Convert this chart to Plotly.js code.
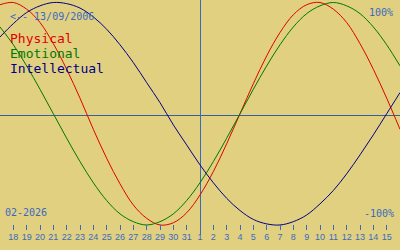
<!DOCTYPE html>
<html>
<head>
<meta charset="utf-8">
<script src="https://cdn.plot.ly/plotly-3.0.1.min.js"></script>
<style>html,body{margin:0;padding:0;background:#e0d080;}#chart{width:400px;height:250px;}</style>
</head>
<body>
<div id="chart"></div>
<script>
// day offsets from 1 Feb 2026 (Jan 17 .. Feb 16)
const dayOffsets = [-15,-14,-13,-12,-11,-10,-9,-8,-7,-6,-5,-4,-3,-2,-1,0,1,2,3,4,5,6,7,8,9,10,11,12,13,14,15];
const physical = [0.98,1.00,0.94,0.82,0.63,0.40,0.14,-0.14,-0.40,-0.63,-0.82,-0.94,-1.00,-0.98,-0.89,-0.73,-0.52,-0.27,0.00,0.27,0.52,0.73,0.89,0.98,1.00,0.94,0.82,0.63,0.40,0.14,-0.14];
const emotional = [0.78,0.62,0.43,0.22,0.00,-0.22,-0.43,-0.62,-0.78,-0.90,-0.97,-1.00,-0.97,-0.90,-0.78,-0.62,-0.43,-0.22,0.00,0.22,0.43,0.62,0.78,0.90,0.97,1.00,0.97,0.90,0.78,0.62,0.43];
const intellectual = [0.69,0.81,0.91,0.97,1.00,0.99,0.95,0.87,0.76,0.62,0.46,0.28,0.10,-0.10,-0.28,-0.46,-0.62,-0.76,-0.87,-0.95,-0.99,-1.00,-0.97,-0.91,-0.81,-0.69,-0.54,-0.37,-0.19,0.00,0.19];
const tickPositions = [-14,-13,-12,-11,-10,-9,-8,-7,-6,-5,-4,-3,-2,-1,0,1,2,3,4,5,6,7,8,9,10,11,12,13,14];
const tickLabels = ["18","19","20","21","22","23","24","25","26","27","28","29","30","31","1","2","3","4","5","6","7","8","9","10","11","12","13","14","15"];
const birthLabel = "<-- 13/09/2006";
const monthLabel = "02-2026";
const seriesNames = ["Physical","Emotional","Intellectual"];

const BG = "#e0d080";
const BLUE_TXT = "#3a6ac0";
const mono = "DejaVu Sans Mono, monospace";

function tr(y, color, name) {
  return {x: dayOffsets, y: y, type: "scatter", mode: "lines", name: name,
          line: {color: color, width: 1, shape: "spline", smoothing: 1}, hoverinfo: "skip"};
}
const data = [
  tr(physical, "#e00000", seriesNames[0]),
  tr(emotional, "#007800", seriesNames[1]),
  tr(intellectual, "#000088", seriesNames[2])
];

function ann(text, px, py, color, size, anchor) {
  return {text: text, xref: "paper", yref: "paper", x: px / 400, y: 1 - py / 230,
          xanchor: anchor || "left", yanchor: "middle", showarrow: false,
          font: {family: mono, size: size, color: color}, borderpad: 0};
}

const layout = {
  width: 400, height: 250,
  margin: {l: 0, r: 0, t: 0, b: 20, pad: 0},
  paper_bgcolor: BG, plot_bgcolor: BG,
  showlegend: false,
  xaxis: {range: [-15, 15], tickmode: "array", tickvals: tickPositions, ticktext: tickLabels,
          ticks: "inside", ticklen: 5, tickwidth: 1, tickcolor: BLUE_TXT, tickangle: 0,
          showgrid: false, zeroline: false, showline: false, fixedrange: true,
          tickfont: {family: "Liberation Sans, Arial, sans-serif", size: 9, color: BLUE_TXT}},
  yaxis: {range: [-1.045, 1.0225], visible: false, showgrid: false, zeroline: false, fixedrange: true},
  shapes: [
    {type: "line", xref: "paper", yref: "paper", x0: 0, x1: 1, y0: 1 - 115.5 / 230, y1: 1 - 115.5 / 230,
     line: {color: "#3c5e9c", width: 1}, layer: "below"},
    {type: "line", xref: "paper", yref: "paper", x0: 200.5 / 400, x1: 200.5 / 400, y0: -0.022, y1: 1,
     line: {color: "#3a6ac0", width: 1}, layer: "below"}
  ],
  annotations: [
    ann(birthLabel, 9, 16.5, BLUE_TXT, 10),
    ann("100%", 394, 12, BLUE_TXT, 10, "right"),
    ann(monthLabel, 4, 212.5, BLUE_TXT, 10),
    ann("-100%", 395, 213, BLUE_TXT, 10, "right"),
    ann(seriesNames[0], 9, 38.5, "#e00000", 13),
    ann(seriesNames[1], 9, 53.5, "#007800", 13),
    ann(seriesNames[2], 9, 68.5, "#000088", 13)
  ]
};

Plotly.newPlot("chart", data, layout, {displayModeBar: false, staticPlot: true});
</script>
</body>
</html>
